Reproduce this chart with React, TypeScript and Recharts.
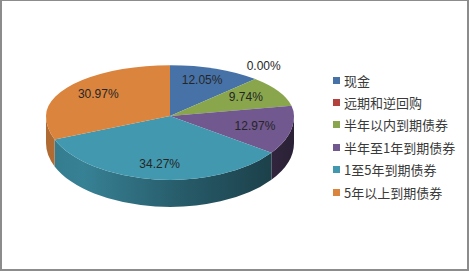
import { Cell, Legend, Pie, PieChart } from 'recharts'

const categories = ['现金', '远期和逆回购', '半年以内到期债券', '半年至1年到期债券', '1至5年到期债券', '5年以上到期债券']
const shares = [12.05, 0.0, 9.74, 12.97, 34.27, 30.97]
const colors = ['#4672A8', '#B3423F', '#89A64D', '#71588F', '#4198AF', '#DA843E']

const data = categories.map((name, i) => ({ name, value: shares[i] }))

// fake perspective: far half of the disc is flatter than the near half
const TILT_FAR = 0.41
const TILT_NEAR = 0.515
const DEPTH = 27
const RAD = Math.PI / 180

function shade(hex: string, k: number) {
  const n = parseInt(hex.slice(1), 16)
  const ch = (v: number) => Math.max(0, Math.min(255, Math.round(v * k)))
  return `rgb(${ch((n >> 16) & 255)},${ch((n >> 8) & 255)},${ch(n & 255)})`
}

// angle ranges split at the horizontal axis so each piece has one radius
function pieces(hi: number, lo: number) {
  const cuts = [180, 0, -180, -360].filter((c) => c < hi && c > lo)
  const pts = [hi, ...cuts, lo]
  const out: [number, number][] = []
  for (let i = 0; i < pts.length - 1; i++) out.push([pts[i], pts[i + 1]])
  return out
}

function slice3d(props: any) {
  const { cx, cy, outerRadius, startAngle, endAngle, fill, index } = props
  if (Math.abs(startAngle - endAngle) < 1e-6) return <g />
  const rx = outerRadius
  const near = (deg: number) => Math.sin(deg * RAD) < -1e-9 || (Math.abs(Math.sin(deg * RAD)) < 1e-9 && false)
  const ryOf = (a: number, b: number) => (Math.sin(((a + b) / 2) * RAD) < 0 ? rx * TILT_NEAR : rx * TILT_FAR)
  const pt = (deg: number, ry: number, dy = 0) =>
    `${cx + rx * Math.cos(deg * RAD)},${cy - ry * Math.sin(deg * RAD) + dy}`
  const hi = Math.max(startAngle, endAngle)
  const lo = Math.min(startAngle, endAngle)
  void near

  const segs = pieces(hi, lo)
  let top = `M${cx},${cy} L${pt(hi, ryOf(segs[0][0], segs[0][1]))}`
  segs.forEach(([a, b]) => {
    const ry = ryOf(a, b)
    top += ` A${rx},${ry} 0 ${a - b > 180 ? 1 : 0} 1 ${pt(b, ry)}`
  })
  top += ' Z'

  // side wall only where the rim faces the viewer (lower half)
  const a1 = Math.min(hi, 0)
  const a2 = Math.max(lo, -180)
  let side = null
  if (a1 > a2) {
    const ry = rx * TILT_NEAR
    const d = `M${pt(a1, ry)} A${rx},${ry} 0 0 1 ${pt(a2, ry)} L${pt(a2, ry, DEPTH)} A${rx},${ry} 0 0 0 ${pt(a1, ry, DEPTH)} Z`
    side = <path d={d} fill={`url(#side${index})`} />
  }
  return (
    <g>
      <defs>
        <linearGradient id={`side${index}`} gradientUnits="userSpaceOnUse" x1={cx - rx} x2={cx + rx} y1={0} y2={0}>
          <stop offset="0%" stopColor={shade(fill, 0.8)} />
          <stop offset="15%" stopColor={shade(fill, 0.85)} />
          <stop offset="55%" stopColor={shade(fill, 0.6)} />
          <stop offset="100%" stopColor={shade(fill, 0.38)} />
        </linearGradient>
      </defs>
      {side}
      <path d={top} fill={fill} />
    </g>
  )
}

function sliceLabel(props: any) {
  const { cx, cy, midAngle, outerRadius, value } = props
  const s = Math.sin(midAngle * RAD)
  const ry = outerRadius * (s < 0 ? TILT_NEAR : TILT_FAR)
  const fx = value === 0 ? 1.1 : 0.7
  const fy = value === 0 ? 1.35 : 0.76
  const x = cx + outerRadius * fx * Math.cos(midAngle * RAD)
  const y = cy - ry * fy * s
  return (
    <text x={x} y={y} textAnchor="middle" dominantBaseline="central" fill="#262626"
      style={{ fontFamily: '"Liberation Sans", Arial, sans-serif', fontSize: 12 }}>
      {Number(value).toFixed(2)}%
    </text>
  )
}

function legendList() {
  return (
    <div style={{ fontFamily: '"Noto Sans CJK SC", sans-serif', fontSize: 13, color: '#3a3a3a' }}>
      {categories.map((name, i) => (
        <div key={name} style={{ height: 22.4, display: 'flex', alignItems: 'center' }}>
          <span style={{ width: 7, height: 7, background: colors[i], marginRight: 4, display: 'inline-block' }} />
          <span>{name}</span>
        </div>
      ))}
    </div>
  )
}

export default function App() {
  return (
    <div style={{ position: 'absolute', left: 0, top: 0, width: 469, height: 271, background: '#fff' }}>
      <PieChart width={469} height={271}>
        <Pie data={data} dataKey="value" nameKey="name" cx={165} cy={111} outerRadius={124}
          startAngle={90} endAngle={-270} stroke="none" isAnimationActive={false}
          shape={slice3d} label={sliceLabel} labelLine={false}>
          {data.map((d, i) => <Cell key={d.name} fill={colors[i]} />)}
        </Pie>
        <Legend layout="vertical" align="right" verticalAlign="top" content={legendList}
          wrapperStyle={{ left: 333, top: 69, width: 134 }} />
      </PieChart>
      <div style={{ position: 'absolute', left: 0, top: 0, width: 469, height: 271, boxSizing: 'border-box',
        borderTop: '1px solid #8c8c8c', borderLeft: '2px solid #8c8c8c', borderRight: '2px solid #8c8c8c',
        borderBottom: '2px solid #8c8c8c', pointerEvents: 'none' }} />
    </div>
  )
}
